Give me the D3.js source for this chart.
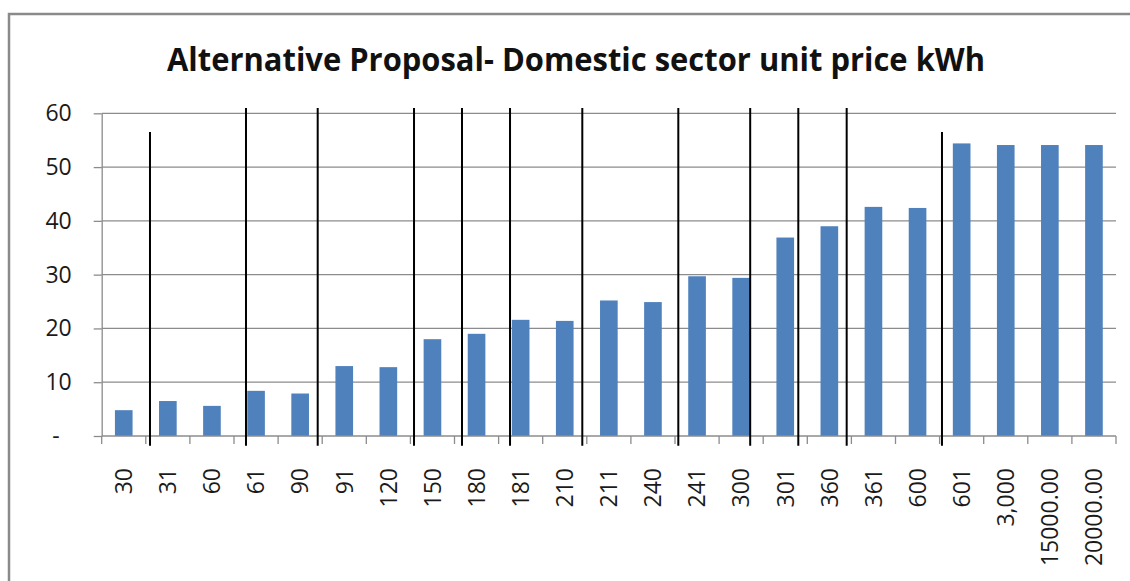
<!DOCTYPE html>
<html>
<head>
<meta charset="utf-8">
<script src="https://cdn.jsdelivr.net/npm/d3@7/dist/d3.min.js"></script>
<style>
  html, body { margin: 0; padding: 0; background: #fff; }
  svg { display: block; }
</style>
</head>
<body>
<svg id="chart" width="1130" height="581"></svg>
<script>
// Consumption bands (kWh) along the x axis
const categories = ["30", "31", "60", "61", "90", "91", "120", "150", "180", "181",
  "210", "211", "240", "241", "300", "301", "360", "361", "600", "601",
  "3,000", "15000.00", "20000.00"];

// Unit price for each band
const unitPrice = [4.8, 6.5, 5.6, 8.4, 7.9, 13.0, 12.8, 18.0, 19.0, 21.6,
  21.4, 25.2, 24.9, 29.7, 29.4, 36.9, 39.0, 42.6, 42.4, 54.4,
  54.1, 54.1, 54.1];

// Value axis ticks and their labels
const yTicks = [0, 10, 20, 30, 40, 50, 60];
const yTickLabels = ["-", "10", "20", "30", "40", "50", "60"];

// Tariff-block dividers drawn over the chart: position in band units, top in price units
const dividerAt = [1.095, 3.272, 4.898, 7.082, 8.170, 9.259, 10.898, 13.075, 14.705, 15.796, 16.893, 19.054];
const dividerTop = [56.5, 61, 61, 61, 61, 61, 61, 61, 61, 61, 61, 56.5];

const title = "Alternative Proposal- Domestic sector unit price kWh";

const svg = d3.select("#chart");
const plotLeft = 101.7, plotRight = 1116, plotTop = 113.3, plotBottom = 436;

// outer frame
svg.append("rect")
  .attr("x", 9).attr("y", 14)
  .attr("width", 1140).attr("height", 600)
  .attr("fill", "#fff")
  .attr("stroke", "#8a8a8a").attr("stroke-width", 2.5);

const x = d3.scaleBand().domain(categories).range([plotLeft, plotRight])
  .paddingInner(0.6).paddingOuter(0.3);
const xIdx = d3.scaleLinear().domain([0, categories.length]).range([plotLeft, plotRight]);
const y = d3.scaleLinear().domain([0, 60]).range([plotBottom, plotTop]);

// title
svg.append("text")
  .attr("x", 576).attr("y", 70.7)
  .attr("text-anchor", "middle")
  .attr("font-family", "'Open Sans', sans-serif")
  .attr("font-weight", "bold")
  .attr("font-size", 32)
  .attr("fill", "#111")
  .attr("textLength", 818)
  .attr("lengthAdjust", "spacingAndGlyphs")
  .text(title);

// horizontal gridlines
svg.append("g").selectAll("line").data(yTicks.filter(d => d > 0)).join("line")
  .attr("x1", plotLeft).attr("x2", plotRight)
  .attr("y1", d => y(d)).attr("y2", d => y(d))
  .attr("stroke", "#8c8c8c").attr("stroke-width", 1.3);

// y axis
const yAxis = svg.append("g")
  .attr("transform", `translate(${plotLeft},0)`)
  .call(d3.axisLeft(y).tickValues(yTicks)
    .tickFormat((d, i) => yTickLabels[i]).tickSize(8).tickSizeOuter(0).tickPadding(22));
yAxis.select(".domain").attr("stroke", "#8c8c8c").attr("stroke-width", 1.3);
yAxis.selectAll(".tick line").attr("stroke", "#8c8c8c").attr("stroke-width", 1.3);
yAxis.selectAll(".tick text")
  .attr("font-family", "'Open Sans', sans-serif")
  .attr("font-size", 23)
  .attr("fill", "#1a1a1a")
  .attr("dx", (d, i) => yTickLabels[i] === "-" ? -12 : 0);

// bars
svg.append("g").selectAll("rect").data(unitPrice).join("rect")
  .attr("x", (d, i) => x(categories[i]))
  .attr("width", x.bandwidth())
  .attr("y", d => y(d))
  .attr("height", d => y(0) - y(d))
  .attr("fill", "#4f81bd");

// x axis line and boundary ticks
svg.append("line")
  .attr("x1", plotLeft).attr("x2", plotRight).attr("y1", plotBottom).attr("y2", plotBottom)
  .attr("stroke", "#8c8c8c").attr("stroke-width", 1.3);
svg.append("g").selectAll("line").data(d3.range(categories.length + 1)).join("line")
  .attr("x1", d => xIdx(d)).attr("x2", d => xIdx(d))
  .attr("y1", plotBottom).attr("y2", plotBottom + 8)
  .attr("stroke", "#8c8c8c").attr("stroke-width", 1.3);

// x labels, rotated
const xAxis = svg.append("g")
  .attr("transform", `translate(0,${plotBottom})`)
  .call(d3.axisBottom(x).tickSize(0));
xAxis.select(".domain").remove();
xAxis.selectAll(".tick text")
  .attr("transform", "rotate(-90)")
  .attr("text-anchor", "end")
  .attr("x", -32).attr("y", 0).attr("dy", "0.36em")
  .attr("font-family", "'Open Sans', sans-serif")
  .attr("font-size", 23)
  .attr("fill", "#1a1a1a");

// tariff-block dividers
svg.append("g").selectAll("line").data(dividerAt).join("line")
  .attr("x1", d => xIdx(d)).attr("x2", d => xIdx(d))
  .attr("y1", (d, i) => y(dividerTop[i])).attr("y2", y(-1.8))
  .attr("stroke", "#000").attr("stroke-width", 2);
</script>
</body>
</html>
